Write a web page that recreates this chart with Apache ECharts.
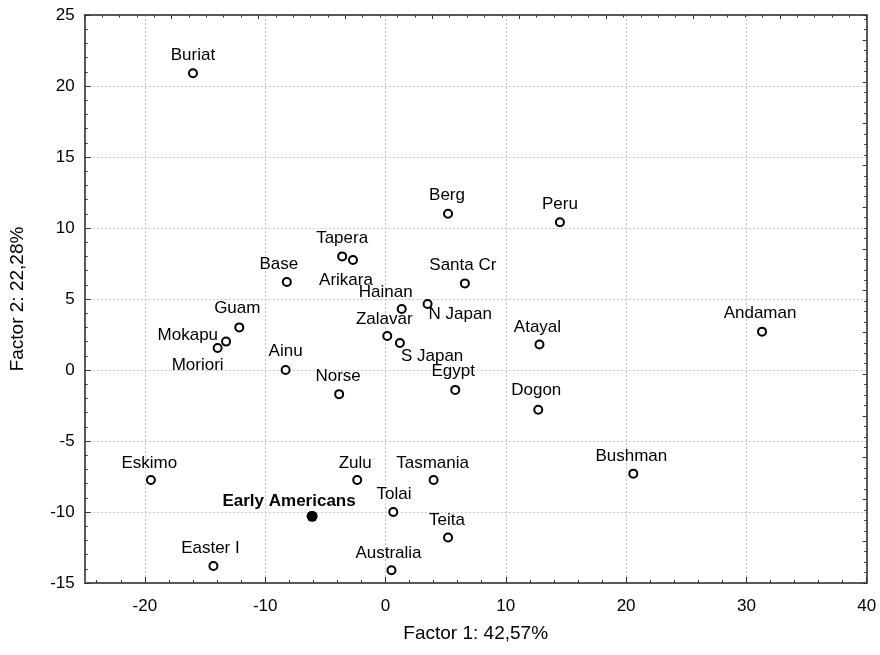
<!DOCTYPE html>
<html>
<head>
<meta charset="utf-8">
<script src="https://cdn.jsdelivr.net/npm/echarts@6/dist/echarts.min.js"></script>
<style>
  html, body { margin: 0; padding: 0; background: #ffffff; }
  #chart { width: 880px; height: 655px; }
</style>
</head>
<body>
<div id="chart"></div>
<script>
// Population scores on the first two factors
const populations = ['Buriat', 'Berg', 'Peru', 'Tapera', 'Arikara', 'Base', 'Santa Cr', 'Hainan',
  'N Japan', 'Guam', 'Mokapu', 'Moriori', 'Zalavar', 'S Japan', 'Atayal', 'Andaman', 'Ainu',
  'Norse', 'Egypt', 'Dogon', 'Bushman', 'Eskimo', 'Zulu', 'Tasmania', 'Tolai', 'Teita',
  'Easter I', 'Australia'];
const factor1 = [-16.0, 5.2, 14.5, -3.6, -2.7, -8.2, 6.6, 1.35,
  3.5, -12.15, -13.25, -13.95, 0.15, 1.2, 12.8, 31.3, -8.3,
  -3.85, 5.8, 12.7, 20.6, -19.5, -2.35, 4.0, 0.65, 5.2,
  -14.3, 0.5];
const factor2 = [20.9, 11.0, 10.4, 8.0, 7.75, 6.2, 6.1, 4.3,
  4.65, 3.0, 2.0, 1.55, 2.4, 1.9, 1.8, 2.7, 0.0,
  -1.7, -1.4, -2.8, -7.3, -7.75, -7.75, -7.75, -10.0, -11.8,
  -13.8, -14.1];

// Highlighted group
const focusGroups = ['Early Americans'];
const focusFactor1 = [-6.1];
const focusFactor2 = [-10.3];

// Axis ticks and titles
const xTickValues = [-20, -10, 0, 10, 20, 30, 40];
const yTickValues = [-15, -10, -5, 0, 5, 10, 15, 20, 25];
const xAxisTitle = 'Factor 1: 42,57%';
const yAxisTitle = 'Factor 2: 22,28%';

// Label placement around each marker: [align, dx, dy] from the marker centre
const labelPlacement = {
  'Buriat': ['center', 0, -18], 'Berg': ['center', -1, -18], 'Peru': ['center', 0, -18],
  'Tapera': ['center', 0, -18], 'Arikara': ['center', -7, 20], 'Base': ['center', -8, -18],
  'Santa Cr': ['center', -2, -18], 'Hainan': ['center', -16, -17], 'N Japan': ['left', 1, 10],
  'Guam': ['center', -2, -19], 'Mokapu': ['right', -8, -6], 'Moriori': ['center', -20, 17],
  'Zalavar': ['center', -3, -17], 'S Japan': ['left', 1, 13], 'Atayal': ['center', -2, -17],
  'Andaman': ['center', -2, -18], 'Ainu': ['center', 0, -19], 'Norse': ['center', -1, -18],
  'Egypt': ['center', -2, -19], 'Dogon': ['center', -2, -19], 'Bushman': ['center', -2, -17],
  'Eskimo': ['center', -1.5, -17], 'Zulu': ['center', -2, -17], 'Tasmania': ['center', -1, -17],
  'Tolai': ['center', 0.7, -18], 'Teita': ['center', -1, -17], 'Easter I': ['center', -3, -18],
  'Australia': ['center', -3, -17], 'Early Americans': ['center', -23, -15]
};

const FONT = "'Liberation Sans', Arial, Helvetica, sans-serif";
const frameColor = '#5a5a5a';
const tickColor = '#333333';

function pointItems(names, xs, ys) {
  return names.map((name, i) => {
    const p = labelPlacement[name] || ['center', 0, -18];
    return {
      name: name,
      value: [xs[i], ys[i]],
      label: { align: p[0], offset: [p[1], p[2]] }
    };
  });
}

const xMinorValues = [];
for (let v = -24; v <= 40; v += 2) xMinorValues.push(v);

const chart = echarts.init(document.getElementById('chart'), null, { renderer: 'canvas' });

const hiddenLabel = { show: false };
const commonLabel = {
  show: true,
  position: 'inside',
  verticalAlign: 'middle',
  formatter: p => p.name,
  color: '#000',
  fontFamily: FONT,
  fontSize: 17
};

chart.setOption({
  animation: false,
  backgroundColor: '#ffffff',
  grid: { left: 84.7, right: 13.3, top: 15, bottom: 72, containLabel: false },
  xAxis: [
    {
      type: 'value', position: 'bottom', min: -25, max: 40,
      name: xAxisTitle, nameLocation: 'middle', nameGap: 41,
      nameTextStyle: { color: '#000', fontFamily: FONT, fontSize: 19 },
      axisLine: { show: true, onZero: false, lineStyle: { color: frameColor, width: 2 } },
      axisTick: { show: true, inside: true, length: 6, customValues: xTickValues,
        lineStyle: { color: tickColor, width: 1 } },
      axisLabel: { show: true, customValues: xTickValues, margin: 15, color: '#000',
        fontFamily: FONT, fontSize: 17 },
      splitLine: { show: true, lineStyle: { color: '#c4c4c4', width: 1, type: [2, 2] } }
    },
    {
      // minor tick marks along the bottom edge
      type: 'value', position: 'bottom', min: -25, max: 40,
      axisLine: { show: false, onZero: false },
      axisTick: { show: true, inside: true, length: 3, customValues: xMinorValues,
        lineStyle: { color: tickColor, width: 1 } },
      axisLabel: hiddenLabel,
      splitLine: { show: false }
    },
    {
      // top edge of the frame
      type: 'value', position: 'top', min: 0, max: 9, interval: 1,
      axisLine: { show: true, onZero: false, lineStyle: { color: frameColor, width: 2 } },
      axisTick: { show: true, inside: true, length: 4, lineStyle: { color: tickColor, width: 1 } },
      minorTick: { show: true, splitNumber: 5, length: 2.5, lineStyle: { color: tickColor, width: 1 } },
      axisLabel: hiddenLabel,
      splitLine: { show: false }
    }
  ],
  yAxis: [
    {
      type: 'value', position: 'left', min: -15, max: 25, interval: 5,
      name: yAxisTitle, nameLocation: 'middle', nameGap: 57, nameRotate: 90,
      nameTextStyle: { color: '#000', fontFamily: FONT, fontSize: 19 },
      axisLine: { show: true, onZero: false, lineStyle: { color: frameColor, width: 2 } },
      axisTick: { show: true, inside: true, length: 6, lineStyle: { color: tickColor, width: 1 } },
      minorTick: { show: true, splitNumber: 5, length: 3, lineStyle: { color: tickColor, width: 1 } },
      axisLabel: { show: true, margin: 10, color: '#000', fontFamily: FONT, fontSize: 17 },
      splitLine: { show: true, lineStyle: { color: '#c4c4c4', width: 1, type: [2, 2] } }
    },
    {
      // right edge of the frame
      type: 'value', position: 'right', min: 0, max: 13.6, interval: 1,
      axisLine: { show: true, onZero: false, lineStyle: { color: frameColor, width: 2 } },
      axisTick: { show: true, inside: true, length: 4, lineStyle: { color: tickColor, width: 1 } },
      minorTick: { show: true, splitNumber: 4, length: 2.5, lineStyle: { color: tickColor, width: 1 } },
      axisLabel: hiddenLabel,
      splitLine: { show: false }
    }
  ],
  series: [
    {
      type: 'scatter',
      xAxisIndex: 0, yAxisIndex: 0,
      symbol: 'circle', symbolSize: 8,
      itemStyle: { color: '#ffffff', borderColor: '#000000', borderWidth: 2, opacity: 1 },
      label: commonLabel,
      emphasis: { disabled: true },
      clip: false,
      data: pointItems(populations, factor1, factor2)
    },
    {
      type: 'scatter',
      xAxisIndex: 0, yAxisIndex: 0,
      symbol: 'circle', symbolSize: 11,
      itemStyle: { color: '#000000', borderWidth: 0, opacity: 1 },
      label: Object.assign({}, commonLabel, { fontWeight: 'bold' }),
      emphasis: { disabled: true },
      clip: false,
      data: pointItems(focusGroups, focusFactor1, focusFactor2)
    }
  ]
});
</script>
</body>
</html>
